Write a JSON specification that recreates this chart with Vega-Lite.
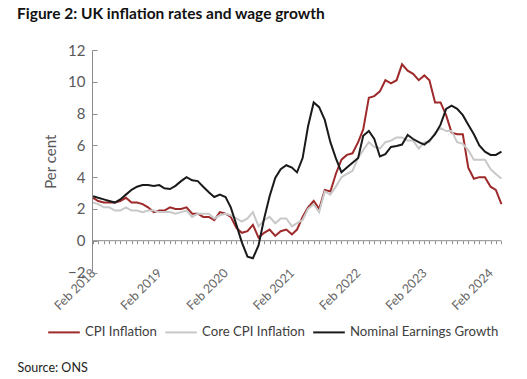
{
  "$schema": "https://vega.github.io/schema/vega-lite/v6.json",
  "width": 410,
  "height": 222.5,
  "autosize": {"type": "none"},
  "padding": {"left": 92, "top": 50, "right": 25, "bottom": 106.5},
  "background": "white",
  "title": {"text": "Figure 2: UK inflation rates and wage growth", "anchor": "start", "frame": "group", "dx": -75, "offset": 21, "font": "Lato", "fontSize": 15.5, "fontWeight": "bold", "color": "#111111"},
  "config": {"view": {"stroke": null}, "font": "Lato", "axisY": {"labelOverlap": false}},
  "data": {"values": [
    {"date": "2018-02-01", "CPI Inflation": 2.7, "Core CPI Inflation": 2.4, "Nominal Earnings Growth": 2.8},
    {"date": "2018-03-01", "CPI Inflation": 2.5, "Core CPI Inflation": 2.3, "Nominal Earnings Growth": 2.7},
    {"date": "2018-04-01", "CPI Inflation": 2.4, "Core CPI Inflation": 2.1, "Nominal Earnings Growth": 2.6},
    {"date": "2018-05-01", "CPI Inflation": 2.4, "Core CPI Inflation": 2.1, "Nominal Earnings Growth": 2.5},
    {"date": "2018-06-01", "CPI Inflation": 2.4, "Core CPI Inflation": 1.9, "Nominal Earnings Growth": 2.4},
    {"date": "2018-07-01", "CPI Inflation": 2.5, "Core CPI Inflation": 1.9, "Nominal Earnings Growth": 2.6},
    {"date": "2018-08-01", "CPI Inflation": 2.7, "Core CPI Inflation": 2.1, "Nominal Earnings Growth": 2.9},
    {"date": "2018-09-01", "CPI Inflation": 2.4, "Core CPI Inflation": 1.9, "Nominal Earnings Growth": 3.2},
    {"date": "2018-10-01", "CPI Inflation": 2.4, "Core CPI Inflation": 1.9, "Nominal Earnings Growth": 3.4},
    {"date": "2018-11-01", "CPI Inflation": 2.3, "Core CPI Inflation": 1.8, "Nominal Earnings Growth": 3.5},
    {"date": "2018-12-01", "CPI Inflation": 2.1, "Core CPI Inflation": 1.9, "Nominal Earnings Growth": 3.5},
    {"date": "2019-01-01", "CPI Inflation": 1.8, "Core CPI Inflation": 1.9, "Nominal Earnings Growth": 3.45},
    {"date": "2019-02-01", "CPI Inflation": 1.9, "Core CPI Inflation": 1.8, "Nominal Earnings Growth": 3.5},
    {"date": "2019-03-01", "CPI Inflation": 1.9, "Core CPI Inflation": 1.8, "Nominal Earnings Growth": 3.3},
    {"date": "2019-04-01", "CPI Inflation": 2.1, "Core CPI Inflation": 1.8, "Nominal Earnings Growth": 3.25},
    {"date": "2019-05-01", "CPI Inflation": 2.0, "Core CPI Inflation": 1.7, "Nominal Earnings Growth": 3.45},
    {"date": "2019-06-01", "CPI Inflation": 2.0, "Core CPI Inflation": 1.8, "Nominal Earnings Growth": 3.75},
    {"date": "2019-07-01", "CPI Inflation": 2.1, "Core CPI Inflation": 1.9, "Nominal Earnings Growth": 4.0},
    {"date": "2019-08-01", "CPI Inflation": 1.7, "Core CPI Inflation": 1.5, "Nominal Earnings Growth": 3.8},
    {"date": "2019-09-01", "CPI Inflation": 1.7, "Core CPI Inflation": 1.7, "Nominal Earnings Growth": 3.75},
    {"date": "2019-10-01", "CPI Inflation": 1.5, "Core CPI Inflation": 1.7, "Nominal Earnings Growth": 3.4},
    {"date": "2019-11-01", "CPI Inflation": 1.5, "Core CPI Inflation": 1.7, "Nominal Earnings Growth": 3.05},
    {"date": "2019-12-01", "CPI Inflation": 1.3, "Core CPI Inflation": 1.4, "Nominal Earnings Growth": 2.75},
    {"date": "2020-01-01", "CPI Inflation": 1.8, "Core CPI Inflation": 1.6, "Nominal Earnings Growth": 2.9},
    {"date": "2020-02-01", "CPI Inflation": 1.7, "Core CPI Inflation": 1.7, "Nominal Earnings Growth": 2.75},
    {"date": "2020-03-01", "CPI Inflation": 1.5, "Core CPI Inflation": 1.6, "Nominal Earnings Growth": 2.1},
    {"date": "2020-04-01", "CPI Inflation": 0.8, "Core CPI Inflation": 1.4, "Nominal Earnings Growth": 1.0},
    {"date": "2020-05-01", "CPI Inflation": 0.5, "Core CPI Inflation": 1.2, "Nominal Earnings Growth": -0.1},
    {"date": "2020-06-01", "CPI Inflation": 0.6, "Core CPI Inflation": 1.4, "Nominal Earnings Growth": -1.0},
    {"date": "2020-07-01", "CPI Inflation": 1.0, "Core CPI Inflation": 1.8, "Nominal Earnings Growth": -1.1},
    {"date": "2020-08-01", "CPI Inflation": 0.2, "Core CPI Inflation": 0.9, "Nominal Earnings Growth": -0.3},
    {"date": "2020-09-01", "CPI Inflation": 0.5, "Core CPI Inflation": 1.3, "Nominal Earnings Growth": 1.4},
    {"date": "2020-10-01", "CPI Inflation": 0.7, "Core CPI Inflation": 1.5, "Nominal Earnings Growth": 2.8},
    {"date": "2020-11-01", "CPI Inflation": 0.3, "Core CPI Inflation": 1.1, "Nominal Earnings Growth": 3.95},
    {"date": "2020-12-01", "CPI Inflation": 0.6, "Core CPI Inflation": 1.4, "Nominal Earnings Growth": 4.5},
    {"date": "2021-01-01", "CPI Inflation": 0.7, "Core CPI Inflation": 1.4, "Nominal Earnings Growth": 4.75},
    {"date": "2021-02-01", "CPI Inflation": 0.4, "Core CPI Inflation": 0.9, "Nominal Earnings Growth": 4.6},
    {"date": "2021-03-01", "CPI Inflation": 0.7, "Core CPI Inflation": 1.1, "Nominal Earnings Growth": 4.3},
    {"date": "2021-04-01", "CPI Inflation": 1.5, "Core CPI Inflation": 1.3, "Nominal Earnings Growth": 5.2},
    {"date": "2021-05-01", "CPI Inflation": 2.1, "Core CPI Inflation": 2.0, "Nominal Earnings Growth": 7.2},
    {"date": "2021-06-01", "CPI Inflation": 2.5, "Core CPI Inflation": 2.3, "Nominal Earnings Growth": 8.7},
    {"date": "2021-07-01", "CPI Inflation": 2.0, "Core CPI Inflation": 1.8, "Nominal Earnings Growth": 8.4},
    {"date": "2021-08-01", "CPI Inflation": 3.2, "Core CPI Inflation": 3.1, "Nominal Earnings Growth": 7.6},
    {"date": "2021-09-01", "CPI Inflation": 3.1, "Core CPI Inflation": 2.9, "Nominal Earnings Growth": 6.2},
    {"date": "2021-10-01", "CPI Inflation": 4.2, "Core CPI Inflation": 3.4, "Nominal Earnings Growth": 5.2},
    {"date": "2021-11-01", "CPI Inflation": 5.1, "Core CPI Inflation": 4.0, "Nominal Earnings Growth": 4.3},
    {"date": "2021-12-01", "CPI Inflation": 5.4, "Core CPI Inflation": 4.2, "Nominal Earnings Growth": 4.6},
    {"date": "2022-01-01", "CPI Inflation": 5.5, "Core CPI Inflation": 4.4, "Nominal Earnings Growth": 4.9},
    {"date": "2022-02-01", "CPI Inflation": 6.2, "Core CPI Inflation": 5.2, "Nominal Earnings Growth": 5.2},
    {"date": "2022-03-01", "CPI Inflation": 7.0, "Core CPI Inflation": 5.7, "Nominal Earnings Growth": 6.6},
    {"date": "2022-04-01", "CPI Inflation": 9.0, "Core CPI Inflation": 6.2, "Nominal Earnings Growth": 6.9},
    {"date": "2022-05-01", "CPI Inflation": 9.1, "Core CPI Inflation": 5.9, "Nominal Earnings Growth": 6.4},
    {"date": "2022-06-01", "CPI Inflation": 9.4, "Core CPI Inflation": 5.8, "Nominal Earnings Growth": 5.3},
    {"date": "2022-07-01", "CPI Inflation": 10.1, "Core CPI Inflation": 6.2, "Nominal Earnings Growth": 5.45},
    {"date": "2022-08-01", "CPI Inflation": 9.9, "Core CPI Inflation": 6.3, "Nominal Earnings Growth": 5.9},
    {"date": "2022-09-01", "CPI Inflation": 10.1, "Core CPI Inflation": 6.5, "Nominal Earnings Growth": 5.96},
    {"date": "2022-10-01", "CPI Inflation": 11.1, "Core CPI Inflation": 6.5, "Nominal Earnings Growth": 6.05},
    {"date": "2022-11-01", "CPI Inflation": 10.7, "Core CPI Inflation": 6.3, "Nominal Earnings Growth": 6.65},
    {"date": "2022-12-01", "CPI Inflation": 10.5, "Core CPI Inflation": 6.3, "Nominal Earnings Growth": 6.4},
    {"date": "2023-01-01", "CPI Inflation": 10.1, "Core CPI Inflation": 5.8, "Nominal Earnings Growth": 6.2},
    {"date": "2023-02-01", "CPI Inflation": 10.4, "Core CPI Inflation": 6.2, "Nominal Earnings Growth": 6.05},
    {"date": "2023-03-01", "CPI Inflation": 10.1, "Core CPI Inflation": 6.2, "Nominal Earnings Growth": 6.3},
    {"date": "2023-04-01", "CPI Inflation": 8.7, "Core CPI Inflation": 6.8, "Nominal Earnings Growth": 6.7},
    {"date": "2023-05-01", "CPI Inflation": 8.7, "Core CPI Inflation": 7.1, "Nominal Earnings Growth": 7.3},
    {"date": "2023-06-01", "CPI Inflation": 7.9, "Core CPI Inflation": 6.9, "Nominal Earnings Growth": 8.3},
    {"date": "2023-07-01", "CPI Inflation": 6.8, "Core CPI Inflation": 6.9, "Nominal Earnings Growth": 8.5},
    {"date": "2023-08-01", "CPI Inflation": 6.7, "Core CPI Inflation": 6.2, "Nominal Earnings Growth": 8.3},
    {"date": "2023-09-01", "CPI Inflation": 6.7, "Core CPI Inflation": 6.1, "Nominal Earnings Growth": 7.9},
    {"date": "2023-10-01", "CPI Inflation": 4.6, "Core CPI Inflation": 5.7, "Nominal Earnings Growth": 7.3},
    {"date": "2023-11-01", "CPI Inflation": 3.9, "Core CPI Inflation": 5.1, "Nominal Earnings Growth": 6.7},
    {"date": "2023-12-01", "CPI Inflation": 4.0, "Core CPI Inflation": 5.1, "Nominal Earnings Growth": 6.0},
    {"date": "2024-01-01", "CPI Inflation": 4.0, "Core CPI Inflation": 5.1, "Nominal Earnings Growth": 5.6},
    {"date": "2024-02-01", "CPI Inflation": 3.4, "Core CPI Inflation": 4.5, "Nominal Earnings Growth": 5.4},
    {"date": "2024-03-01", "CPI Inflation": 3.2, "Core CPI Inflation": 4.2, "Nominal Earnings Growth": 5.4},
    {"date": "2024-04-01", "CPI Inflation": 2.3, "Core CPI Inflation": 3.9, "Nominal Earnings Growth": 5.6}
  ]},
  "transform": [{"fold": ["CPI Inflation", "Core CPI Inflation", "Nominal Earnings Growth"], "as": ["series", "value"]}],
  "layer": [
    {
      "mark": {"type": "rule", "color": "#8c8c8c", "strokeWidth": 1},
      "encoding": {
        "x": {"aggregate": "min", "field": "date", "type": "temporal",
          "scale": {"domain": [{"year": 2018, "month": 1, "date": 26, "utc": true}, {"year": 2024, "month": 4, "date": 4, "utc": true}]},
          "axis": {"orient": "bottom", "offset": -31.8, "domain": false, "labels": false, "ticks": true, "tickCount": {"interval": "month", "step": 1}, "tickSize": 3, "tickColor": "#8c8c8c", "grid": false, "title": null}},
        "x2": {"aggregate": "max", "field": "date"},
        "y": {"datum": 0, "type": "quantitative", "scale": {"domain": [-2, 12], "nice": false},
          "axis": {"values": [-2, 0, 2, 4, 6, 8, 10, 12], "labelOverlap": false, "title": "Per cent", "grid": false, "domainColor": "#8c8c8c", "tickColor": "#8c8c8c", "tickSize": -5,
            "labelFontSize": 15, "labelColor": "#595959", "labelPadding": 12, "labelFont": "Lato",
            "titleFontSize": 15, "titleFontWeight": "normal", "titleColor": "#595959", "titlePadding": 9, "titleFont": "Lato"}}
      }
    },
    {
      "mark": {"type": "line", "strokeWidth": 2},
      "encoding": {
        "x": {"field": "date", "type": "temporal",
          "axis": {"orient": "bottom", "values": [
            {"year": 2018, "month": 2, "date": 1, "utc": true},
            {"year": 2019, "month": 2, "date": 1, "utc": true},
            {"year": 2020, "month": 2, "date": 1, "utc": true},
            {"year": 2021, "month": 2, "date": 1, "utc": true},
            {"year": 2022, "month": 2, "date": 1, "utc": true},
            {"year": 2023, "month": 2, "date": 1, "utc": true},
            {"year": 2024, "month": 2, "date": 1, "utc": true}],
            "format": "%b %Y", "labelAngle": -45, "labelAlign": "right", "labelBaseline": "middle", "labelPadding": -2, "labelOverlap": false,
            "domain": false, "ticks": false, "grid": false, "labelFontSize": 12.5, "labelColor": "#666666", "labelFont": "Lato",
            "title": "Source: ONS", "titleX": -75, "titleY": 95, "titleAlign": "left", "titleBaseline": "middle", "titleAngle": 0,
            "titleFontWeight": "normal", "titleFontSize": 12.5, "titleColor": "#222222", "titleFont": "Lato"}},
        "y": {"field": "value", "type": "quantitative",
          "axis": {"values": [-2, 0, 2, 4, 6, 8, 10, 12], "labelOverlap": false, "title": "Per cent", "grid": false, "domainColor": "#8c8c8c", "tickColor": "#8c8c8c", "tickSize": -5,
            "labelFontSize": 15, "labelColor": "#595959", "labelPadding": 12, "labelFont": "Lato",
            "titleFontSize": 15, "titleFontWeight": "normal", "titleColor": "#595959", "titlePadding": 9, "titleFont": "Lato"}},
        "color": {"field": "series", "type": "nominal",
          "scale": {"domain": ["CPI Inflation", "Core CPI Inflation", "Nominal Earnings Growth"], "range": ["#9e2a2b", "#c8c8c8", "#1a1a1a"]},
          "legend": {"orient": "none", "legendX": -45, "legendY": 265, "direction": "horizontal", "title": null,
            "symbolType": "stroke", "symbolSize": 1000, "symbolStrokeWidth": 2, "labelFontSize": 13.2, "labelColor": "#404040", "labelFont": "Lato", "labelLimit": 300,
            "columnPadding": 4, "labelOffset": 4}}
      }
    }
  ],
  "resolve": {"axis": {"x": "independent"}}
}
